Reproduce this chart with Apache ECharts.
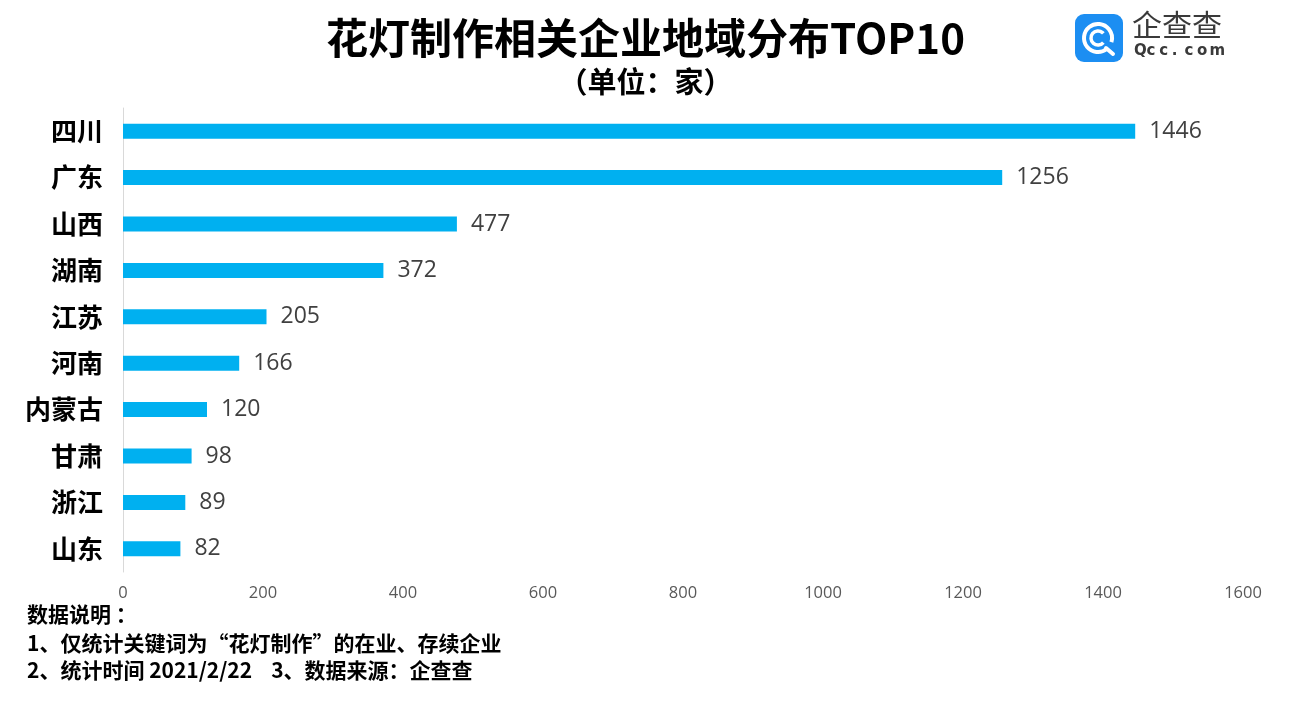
<!DOCTYPE html>
<html><head><meta charset="utf-8">
<script src="https://cdn.jsdelivr.net/npm/echarts@6/dist/echarts.min.js"></script>
<style>html,body{margin:0;padding:0;background:#fff}#c{width:1291px;height:704px}</style>
</head><body><div id="c"></div>
<script>
const categories = ['四川','广东','山西','湖南','江苏','河南','内蒙古','甘肃','浙江','山东'];
const values = [1446,1256,477,372,205,166,120,98,89,82];
const xTicks = [0,200,400,600,800,1000,1200,1400,1600];
const titleText = '花灯制作相关企业地域分布TOP10';
const subtitleText = '（单位：家）';
const notes = ['数据说明 ：','1、仅统计关键词为“花灯制作”的在业、存续企业','2、统计时间 2021/2/22    3、数据来源：企查查'];
const logoName = '企查查';
const logoSite = 'Qcc.com';

const chart = echarts.init(document.getElementById('c'));
const font = '"Noto Sans CJK SC","Microsoft YaHei",sans-serif';
const siteChars = logoSite.split('').map((ch,i)=>({type:'text',left:1134+i*12.6,top:44,
  style:{text:ch,font:'bold 15px "DejaVu Sans",sans-serif',fill:'#3a3a3a'}}));
chart.setOption({
  animation:false,
  textStyle:{fontFamily:font},
  title:[
    {text:titleText,left:'center',top:12,textStyle:{fontSize:42,fontWeight:'bold',color:'#000',fontFamily:font}},
    {text:subtitleText,left:'center',top:62,textStyle:{fontSize:29,fontWeight:'bold',color:'#000',fontFamily:font}}
  ],
  grid:{left:123,right:48,top:108,bottom:132,containLabel:false},
  xAxis:{type:'value',min:xTicks[0],max:xTicks[xTicks.length-1],interval:200,
    axisLine:{show:false},axisTick:{show:false},splitLine:{show:false},
    axisLabel:{color:'#595959',fontSize:16.5,margin:13,fontFamily:'"Open Sans",sans-serif',formatter:v=>String(v)}},
  yAxis:{type:'category',data:categories,inverse:true,
    axisLine:{show:true,lineStyle:{color:'#d9d9d9',width:1}},axisTick:{show:false},
    axisLabel:{color:'#000',fontSize:26,fontWeight:'bold',margin:20,fontFamily:font}},
  series:[{type:'bar',data:values,barWidth:15,itemStyle:{color:'#00B0F0'},
    label:{show:true,position:'right',distance:14,color:'#404040',fontSize:23,fontFamily:'"Open Sans",sans-serif'}}],
  graphic:[
    {type:'text',left:27,top:604,style:{text:notes[0],font:'bold 21px '+font,fill:'#000'}},
    {type:'text',left:27,top:633,style:{text:notes[1],font:'bold 21px '+font,fill:'#000'}},
    {type:'text',left:27,top:660,style:{text:notes[2],font:'bold 21px '+font,fill:'#000'}},
    {type:'rect',shape:{x:1075,y:14,width:48,height:48,r:9},style:{fill:'#1C8EF2'}},
    {type:'arc',shape:{cx:1098,cy:38,r:14,startAngle:0.9,endAngle:Math.PI*2+0.3},style:{stroke:'#fff',lineWidth:4,fill:null}},
    {type:'arc',shape:{cx:1098,cy:38,r:7,startAngle:0.7,endAngle:Math.PI*2-0.7},style:{stroke:'#fff',lineWidth:3.5,fill:null}},
    {type:'line',shape:{x1:1106,y1:48,x2:1113,y2:54},style:{stroke:'#fff',lineWidth:4,lineCap:'round'}},
    {type:'text',left:1132,top:10,style:{text:logoName,font:'30px '+font,fill:'#3a3a3a'}}
  ].concat(siteChars)
});
</script></body></html>
